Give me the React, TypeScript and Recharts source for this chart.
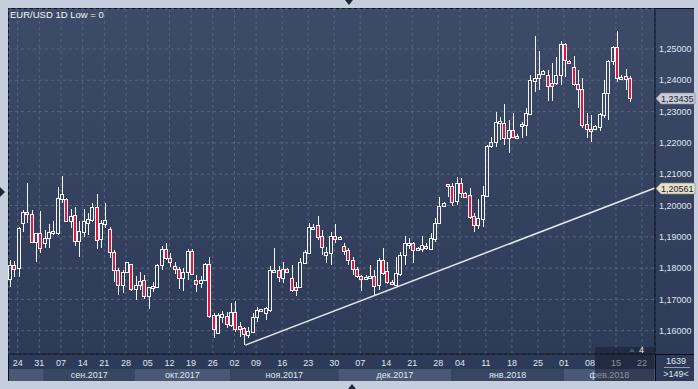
import React from 'react';
import { ComposedChart, Bar, XAxis, YAxis, CartesianGrid, ReferenceLine } from 'recharts';

const FONT = '"Liberation Sans", Arial, sans-serif';

// ---- series values (EUR/USD daily) ----
const opens = [
  1.1764, 1.1809, 1.1799, 1.1945, 1.1978, 1.1973, 1.1882, 1.1911, 1.1879, 1.1897,
  1.1916, 1.1913, 1.2022, 1.2020, 1.1952, 1.1969, 1.1886, 1.1916, 1.1943, 1.1954,
  1.1994, 1.1892, 1.1941, 1.1924, 1.1850, 1.1794, 1.1746, 1.1789, 1.1812, 1.1732,
  1.1745, 1.1762, 1.1711, 1.1739, 1.1741, 1.1809, 1.1860, 1.1831, 1.1806, 1.1797,
  1.1767, 1.1789, 1.1856, 1.1762, 1.1751, 1.1762, 1.1813, 1.1650, 1.1594, 1.1645,
  1.1647, 1.1618, 1.1661, 1.1615, 1.1610, 1.1586, 1.1597, 1.1643, 1.1667, 1.1655,
  1.1666, 1.1790, 1.1794, 1.1770, 1.1796, 1.1767, 1.1739, 1.1739, 1.1817, 1.1849,
  1.1930, 1.1938, 1.1902, 1.1842, 1.1849, 1.1903, 1.1892, 1.1871, 1.1858, 1.1826,
  1.1797, 1.1775, 1.1764, 1.1772, 1.1775, 1.1746, 1.1826, 1.1791, 1.1757, 1.1746,
  1.1781, 1.1842, 1.1877, 1.1879, 1.1858, 1.1860, 1.1871, 1.1860, 1.1892, 1.1943,
  1.1997, 1.2068, 1.2062, 1.2013, 1.2071, 1.2041, 1.2033, 1.1966, 1.1938, 1.1956,
  1.2030, 1.2189, 1.2204, 1.2265, 1.2265, 1.2215, 1.2241, 1.2222, 1.2256, 1.2257,
  1.2292, 1.2399, 1.2406, 1.2420, 1.2417, 1.2392, 1.2392, 1.2417, 1.2516, 1.2463,
  1.2441, 1.2388, 1.2371, 1.2259, 1.2243, 1.2243, 1.2252, 1.2289, 1.2358, 1.2463,
  1.2505, 1.2410, 1.2414, 1.2406,
];
const highs = [
  1.1825, 1.1824, 1.1932, 1.1986, 1.2071, 1.1986, 1.1913, 1.1982, 1.1922, 1.1941,
  1.1951, 1.2060, 1.2094, 1.2023, 1.1988, 1.1996, 1.1952, 1.1988, 1.1975, 1.2007,
  1.2037, 1.1954, 1.2007, 1.1930, 1.1858, 1.1799, 1.1794, 1.1821, 1.1814, 1.1775,
  1.1789, 1.1778, 1.1741, 1.1757, 1.1812, 1.1871, 1.1881, 1.1847, 1.1821, 1.1805,
  1.1799, 1.1860, 1.1860, 1.1778, 1.1775, 1.1817, 1.1837, 1.1656, 1.1656, 1.1663,
  1.1661, 1.1690, 1.1695, 1.1629, 1.1613, 1.1613, 1.1655, 1.1677, 1.1670, 1.1677,
  1.1807, 1.1863, 1.1807, 1.1821, 1.1799, 1.1810, 1.1757, 1.1831, 1.1858, 1.1943,
  1.1941, 1.1966, 1.1922, 1.1868, 1.1916, 1.1941, 1.1903, 1.1879, 1.1863, 1.1834,
  1.1805, 1.1778, 1.1778, 1.1810, 1.1794, 1.1831, 1.1863, 1.1821, 1.1762, 1.1836,
  1.1852, 1.1903, 1.1895, 1.1884, 1.1866, 1.1903, 1.1879, 1.1911, 1.1959, 1.2028,
  1.2012, 1.2069, 1.2071, 1.2092, 1.2087, 1.2043, 1.2057, 1.1977, 1.2020, 1.2062,
  1.2193, 1.2220, 1.2300, 1.2284, 1.2324, 1.2273, 1.2295, 1.2230, 1.2268, 1.2310,
  1.2417, 1.2542, 1.2495, 1.2433, 1.2433, 1.2456, 1.2476, 1.2524, 1.2520, 1.2465,
  1.2478, 1.2433, 1.2406, 1.2294, 1.2289, 1.2257, 1.2294, 1.2401, 1.2465, 1.2510,
  1.2559, 1.2417, 1.2435, 1.2414,
];
const lows = [
  1.1741, 1.1772, 1.1773, 1.1916, 1.1945, 1.1881, 1.1821, 1.1849, 1.1863, 1.1863,
  1.1906, 1.1906, 1.2007, 1.1947, 1.1927, 1.1871, 1.1837, 1.1900, 1.1906, 1.1948,
  1.1860, 1.1863, 1.1927, 1.1831, 1.1757, 1.1714, 1.1722, 1.1783, 1.1728, 1.1698,
  1.1730, 1.1700, 1.1668, 1.1725, 1.1735, 1.1794, 1.1826, 1.1805, 1.1781, 1.1734,
  1.1728, 1.1762, 1.1777, 1.1725, 1.1735, 1.1760, 1.1640, 1.1576, 1.1592, 1.1624,
  1.1608, 1.1613, 1.1596, 1.1581, 1.1554, 1.1576, 1.1595, 1.1629, 1.1665, 1.1634,
  1.1661, 1.1785, 1.1757, 1.1751, 1.1783, 1.1725, 1.1711, 1.1735, 1.1815, 1.1847,
  1.1928, 1.1890, 1.1842, 1.1815, 1.1810, 1.1879, 1.1890, 1.1842, 1.1810, 1.1778,
  1.1767, 1.1728, 1.1762, 1.1767, 1.1714, 1.1730, 1.1778, 1.1749, 1.1746, 1.1743,
  1.1775, 1.1810, 1.1860, 1.1815, 1.1855, 1.1852, 1.1858, 1.1858, 1.1884, 1.1941,
  1.1994, 1.2028, 1.1998, 1.2002, 1.2023, 1.2026, 1.1956, 1.1916, 1.1924, 1.1930,
  1.2028, 1.2183, 1.2188, 1.2209, 1.2193, 1.2167, 1.2215, 1.2215, 1.2215, 1.2222,
  1.2289, 1.2364, 1.2369, 1.2417, 1.2335, 1.2335, 1.2385, 1.2385, 1.2412, 1.2452,
  1.2382, 1.2311, 1.2247, 1.2215, 1.2204, 1.2240, 1.2239, 1.2279, 1.2273, 1.2449,
  1.2393, 1.2401, 1.2369, 1.2332,
];
const closes = [
  1.1810, 1.1798, 1.1927, 1.1978, 1.1972, 1.1882, 1.1911, 1.1863, 1.1895, 1.1915,
  1.1919, 1.2023, 1.2037, 1.1951, 1.1966, 1.1886, 1.1919, 1.1951, 1.1956, 1.1994,
  1.1891, 1.1943, 1.1954, 1.1851, 1.1794, 1.1746, 1.1789, 1.1818, 1.1732, 1.1746,
  1.1759, 1.1711, 1.1739, 1.1743, 1.1810, 1.1860, 1.1831, 1.1821, 1.1797, 1.1767,
  1.1789, 1.1854, 1.1780, 1.1748, 1.1762, 1.1813, 1.1648, 1.1605, 1.1650, 1.1653,
  1.1621, 1.1660, 1.1604, 1.1607, 1.1589, 1.1599, 1.1645, 1.1666, 1.1669, 1.1671,
  1.1794, 1.1793, 1.1771, 1.1796, 1.1788, 1.1730, 1.1730, 1.1821, 1.1852, 1.1932,
  1.1932, 1.1900, 1.1868, 1.1852, 1.1903, 1.1892, 1.1900, 1.1856, 1.1826, 1.1796,
  1.1775, 1.1764, 1.1773, 1.1775, 1.1743, 1.1826, 1.1785, 1.1757, 1.1751, 1.1783,
  1.1842, 1.1879, 1.1881, 1.1858, 1.1863, 1.1874, 1.1863, 1.1895, 1.1943, 1.1998,
  1.2009, 1.2062, 1.2012, 1.2071, 1.2041, 1.2028, 1.1964, 1.1938, 1.1959, 1.2034,
  1.2190, 1.2202, 1.2268, 1.2271, 1.2215, 1.2241, 1.2220, 1.2218, 1.2260, 1.2295,
  1.2401, 1.2406, 1.2420, 1.2431, 1.2382, 1.2382, 1.2417, 1.2516, 1.2465, 1.2456,
  1.2388, 1.2371, 1.2257, 1.2243, 1.2238, 1.2254, 1.2291, 1.2358, 1.2463, 1.2505,
  1.2406, 1.2411, 1.2405, 1.23435,
];

const futureBars = 5; // empty slots at the right edge
const trendStart = { bar: 54, price: 1.1554 };
const trendEndPrice = 1.20561;
const lastPrice = closes[closes.length - 1];
const priceTicks = [1.16, 1.17, 1.18, 1.19, 1.2, 1.21, 1.22, 1.23, 1.24, 1.25];
const priceDomain: [number, number] = [1.15256, 1.26278];
const monthNames = ['янв.', 'фев.', 'мар.', 'апр.', 'мая', 'июн.', 'июл.', 'авг.', 'сен.', 'окт.', 'ноя.', 'дек.'];
const titleText = 'EUR/USD 1D Low = 0';
const totalBarsLabel = '1639';
const visibleBarsLabel = '>149<';
const shiftLabel = '4';

// ---- calendar of the bars (weekdays, Sunday sessions from 12 Nov, no 1 Jan) ----
function buildDates(n: number): Date[] {
  const out: Date[] = [];
  const d = new Date(Date.UTC(2017, 7, 22));
  const sundayFrom = Date.UTC(2017, 10, 12);
  const closed = [Date.UTC(2018, 0, 1)];
  while (out.length < n) {
    const dow = d.getUTCDay();
    const t = d.getTime();
    const open = (dow >= 1 && dow <= 5) || (dow === 0 && t >= sundayFrom);
    if (open && !closed.includes(t)) out.push(new Date(t));
    d.setUTCDate(d.getUTCDate() + 1);
  }
  return out;
}

const N = closes.length + futureBars;
const dates = buildDates(N);

const rows = dates.map((dt, i) =>
  i < closes.length
    ? { i, o: opens[i], h: highs[i], l: lows[i], c: closes[i], range: [lows[i], highs[i]] }
    : { i }
);

// day ticks on Thursdays, placed on the left edge of the bar
const dayLabelMap: Record<string, string> = {};
const dayTicks: number[] = [];
dates.forEach((dt, i) => {
  if (dt.getUTCDay() === 4) {
    const v = i - 0.5;
    dayTicks.push(v);
    dayLabelMap[String(v)] = String(dt.getUTCDate()).padStart(2, '0');
  }
});

// month bands
type MonthInfo = { label: string; count: number; k: number };
const monthMap: Record<string, MonthInfo> = {};
const monthTicks: number[] = [];
{
  let start = 0;
  let k = 0;
  for (let i = 1; i <= N; i++) {
    if (i === N || dates[i].getUTCMonth() !== dates[start].getUTCMonth()) {
      const center = (start + i - 1) / 2;
      monthTicks.push(center);
      monthMap[String(center)] = {
        label: monthNames[dates[start].getUTCMonth()] + dates[start].getUTCFullYear(),
        count: i - start,
        k,
      };
      k++;
      start = i;
    }
  }
}

// ---- layout ----
const W = 698;
const H = 389;
const MARGIN = { top: 9, right: 5, bottom: 8, left: 9 };
const Y_AXIS_W = 38;
const PLOT_W = W - MARGIN.left - MARGIN.right - Y_AXIS_W;
const PX_PER_BAR = PLOT_W / N;

const WHITE = '#f2f4f8';
const RED = '#e3163e';
const LABEL = '#dfe6f1';

const Candle = (props: any) => {
  const { x, y, width, height, payload } = props;
  if (!payload || payload.o == null || y == null || !isFinite(height)) return <g />;
  const { o, h, l, c } = payload;
  const px0 = Math.round(x + width / 2);
  const span = h - l || 1e-9;
  const py = (v: number) => y + ((h - v) / span) * height;
  let top = Math.round(py(Math.max(o, c))) + 0.5;
  let bot = Math.round(py(Math.min(o, c))) + 0.5;
  if (bot - top < 2) bot = top + 2;
  const up = c >= o;
  const wx = px0 - 0.5;
  const yHigh = Math.round(y);
  const yLow = Math.round(y + height);
  return (
    <g>
      {yHigh < top && <line x1={wx} x2={wx} y1={yHigh} y2={top} stroke={WHITE} strokeWidth={1} />}
      {yLow > bot && <line x1={wx} x2={wx} y1={bot} y2={yLow} stroke={WHITE} strokeWidth={1} />}
      <rect
        x={px0 - 2.5}
        y={top}
        width={3}
        height={bot - top}
        fill={up ? 'none' : RED}
        stroke={WHITE}
        strokeWidth={1}
      />
    </g>
  );
};

const MonthTick = (props: any) => {
  const { x, y, payload } = props;
  const m = monthMap[String(payload.value)];
  if (!m) return <g />;
  const w = m.count * PX_PER_BAR;
  return (
    <g>
      <rect x={x - w / 2} y={y} width={w} height={12} fill={m.k % 2 === 0 ? '#4a5876' : '#384662'} />
      {m.count >= 15 && (
        <text x={x} y={y + 9} textAnchor="middle" fill={LABEL} fontSize={9} fontFamily={FONT}>
          {m.label}
        </text>
      )}
    </g>
  );
};

const PriceTag = (props: any) => {
  const { viewBox, text, fill } = props;
  if (!viewBox) return <g />;
  const xr = viewBox.x + viewBox.width + 1;
  const yy = Math.round(viewBox.y) + 0.5;
  const pts = `${xr},${yy} ${xr + 5},${yy - 5.5} ${xr + 39},${yy - 5.5} ${xr + 39},${yy + 5.5} ${xr + 5},${yy + 5.5}`;
  return (
    <g>
      <polygon points={pts} fill={fill} stroke="#7f8898" strokeWidth={0.6} />
      <text x={xr + 5} y={yy + 3.5} fill="#1b2336" fontSize={9} fontFamily={FONT}>
        {text}
      </text>
    </g>
  );
};

const fmtPrice = (v: number) => v.toFixed(5).replace('.', ',');

export default function App() {
  return (
    <div style={{ position: 'absolute', left: 0, top: 0, width: W, height: H, background: '#c4cedc', overflow: 'hidden' }}>
      {/* panel */}
      <div
        style={{
          position: 'absolute',
          left: 8,
          top: 8,
          width: 686,
          height: 373,
          background: 'linear-gradient(180deg, #3e4b68 0%, #34415e 55%, #2d3a57 100%)',
          borderLeft: '1px solid #0c1220',
          borderTop: '1px solid #0c1220',
          boxSizing: 'border-box',
        }}
      />
      <div style={{ position: 'absolute', left: 0, top: 0 }}>
        <ComposedChart width={W} height={H} data={rows} margin={MARGIN}>
          <CartesianGrid xAxisId="day" stroke="#56657f" strokeDasharray="3 3" />
          <XAxis
            xAxisId="day"
            dataKey="i"
            type="number"
            domain={[-0.5, N - 0.5]}
            ticks={dayTicks}
            interval={0}
            tickFormatter={(v: number) => dayLabelMap[String(v)] ?? ''}
            tickLine={false}
            tickSize={0}
            tickMargin={6}
            axisLine={{ stroke: '#070b14' }}
            height={15}
            tick={{ fill: LABEL, fontSize: 9, fontFamily: FONT }}
          />
          <XAxis
            xAxisId="month"
            dataKey="i"
            type="number"
            domain={[-0.5, N - 0.5]}
            ticks={monthTicks}
            interval={0}
            tick={<MonthTick />}
            tickLine={false}
            axisLine={false}
            tickSize={0}
            tickMargin={0}
            height={12}
          />
          <YAxis
            orientation="right"
            type="number"
            domain={priceDomain}
            allowDataOverflow
            ticks={priceTicks}
            interval={0}
            tickFormatter={fmtPrice}
            width={Y_AXIS_W}
            tickLine={false}
            tickSize={0}
            tickMargin={4}
            axisLine={{ stroke: '#070b14' }}
            tick={{ fill: LABEL, fontSize: 9, fontFamily: FONT }}
          />
          <Bar xAxisId="day" dataKey="range" barSize={4} shape={<Candle />} isAnimationActive={false} />
          <ReferenceLine
            xAxisId="day"
            segment={[
              { x: trendStart.bar, y: trendStart.price },
              { x: N - 0.5, y: trendEndPrice },
            ]}
            stroke="#e4e7ee"
            strokeWidth={1.5}
            ifOverflow="visible"
          />
          <ReferenceLine
            xAxisId="day"
            y={lastPrice}
            stroke="none"
            label={<PriceTag text={fmtPrice(lastPrice)} fill="#c7ccd6" />}
          />
          <ReferenceLine
            xAxisId="day"
            y={trendEndPrice}
            stroke="none"
            label={<PriceTag text={fmtPrice(trendEndPrice)} fill="#e6e1c4" />}
          />
        </ComposedChart>
      </div>
      {/* title */}
      <div style={{ position: 'absolute', left: 10, top: 9, color: '#f4f6fa', fontSize: 9.5, fontFamily: FONT, whiteSpace: 'nowrap' }}>
        {titleText}
      </div>
      {/* future-area shade and shift marker */}
      <div style={{ position: 'absolute', left: 595, top: 347, width: 59, height: 34, background: 'rgba(16,22,36,0.42)' }} />
      <svg style={{ position: 'absolute', left: 0, top: 0 }} width={W} height={H}>
        <polygon points="629,352 632,348 635,352" fill="#4a5468" />
        <text x={639} y={353} fill="#eef1f6" fontSize={9} fontFamily={FONT}>{shiftLabel}</text>
        {/* bottom-right info box */}
        <line x1={655} x2={694} y1={354.5} y2={354.5} stroke="#070b14" />
        <line x1={655.5} x2={655.5} y1={354} y2={381} stroke="#070b14" />
        <text x={676} y={364} textAnchor="middle" fill={LABEL} fontSize={9} fontFamily={FONT}>{totalBarsLabel}</text>
        <line x1={664} x2={690} y1={367.5} y2={367.5} stroke="#aeb7c6" strokeWidth={0.8} />
        <text x={676} y={377} textAnchor="middle" fill={LABEL} fontSize={9} fontFamily={FONT}>{visibleBarsLabel}</text>
        {/* frame arrows */}
        <polygon points="345,0 353,0 349,5" fill="#1d283b" />
        <polygon points="348,389 356,389 352,384" fill="#1d283b" />
        <polygon points="0,187 0,197 5,192" fill="#1d283b" />
      </svg>
    </div>
  );
}
